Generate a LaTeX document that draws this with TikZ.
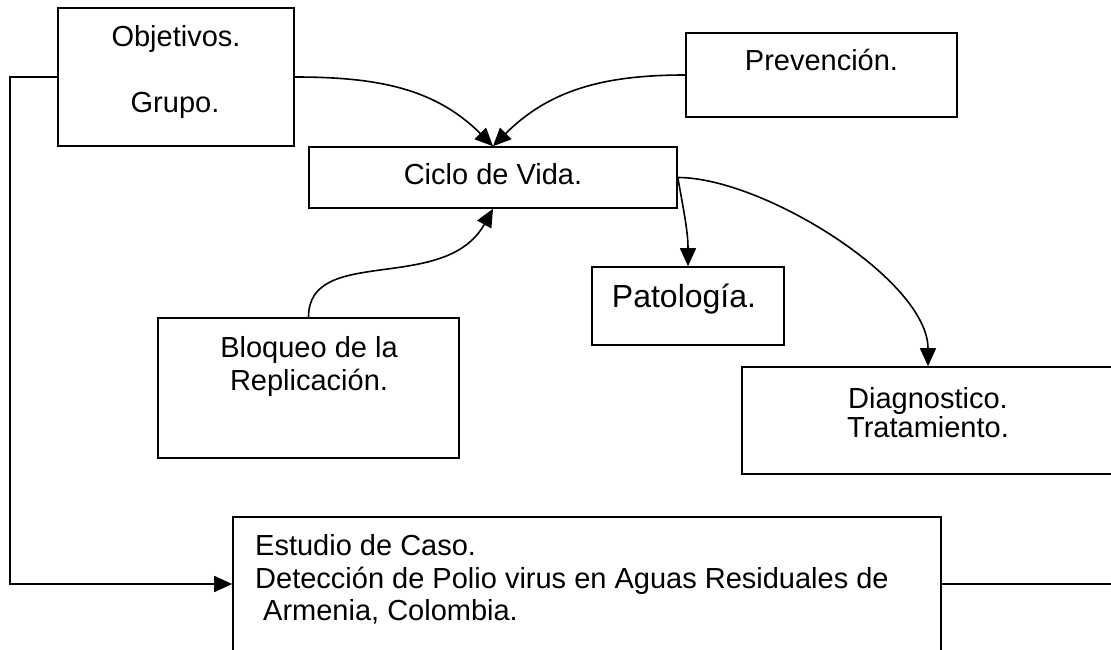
\documentclass[tikz,border=0pt]{standalone}
\usepackage{fontspec}
\setmainfont{Liberation Sans}
\usetikzlibrary{arrows.meta}
\begin{document}
\begin{tikzpicture}[x=1pt,y=-1pt,
  box/.style={draw=black,line width=1.6pt,rectangle,inner sep=0pt,fill=white},
  txt/.style={inner sep=0pt,anchor=base,font=\fontsize{29}{34}\selectfont},
  ltxt/.style={txt,anchor=base west},
  conn/.style={line width=1.6pt,draw=black},
  arr/.style={conn,-{Triangle[length=18pt,width=16pt]}}]
\useasboundingbox (0,0) rectangle (1111,650);
\clip (0,0) rectangle (1111,650);
\fill[white] (0,0) rectangle (1111,650);
% boxes
\node[box,minimum width=236pt,minimum height=138pt] (obj) at (176,77) {};
\node[box,minimum width=271pt,minimum height=84pt] (prev) at (821.5,75) {};
\node[box,minimum width=368pt,minimum height=61pt] (cv) at (493,177.5) {};
\node[box,minimum width=192pt,minimum height=78pt] (pat) at (688,306) {};
\node[box,minimum width=372pt,minimum height=107pt] (diag) at (928,420.5) {};
\node[box,minimum width=301pt,minimum height=140pt] (bl) at (308.5,388) {};
\node[box,minimum width=708pt,minimum height=134pt] (cs) at (587,584) {};
% texts
\node[txt] (t1) at (176,47) {Objetivos.};
\node[txt] (t2) at (175,113) {Grupo.};
\node[txt] (t3) at (821.5,71) {Prevención.};
\node[txt] (t4) at (493,184) {Ciclo de Vida.};
\node[txt,font=\fontsize{32}{38}\selectfont] (t5) at (684,307) {Patología.};
\node[txt] (t6) at (928,408) {Diagnostico.};
\node[txt] (t7) at (928,437) {Tratamiento.};
\node[txt] (t8) at (309,357) {Bloqueo de la};
\node[txt] (t9) at (309,390) {Replicación.};
\node[ltxt] (t10) at (255,555) {Estudio de Caso.};
\node[ltxt] (t11) at (255,588) {Detección de Polio virus en Aguas Residuales de};
\node[ltxt] (t12) at (263,620) {Armenia, Colombia.};
% connectors
\draw[arr] (obj.east) to[out=0,in=135] (cv.north);
\draw[arr] (prev.west) to[out=180,in=45] (cv.north);
\draw[arr] (bl.north) .. controls +(0,-73) and +(-48,86) .. (cv.south);
\draw[arr] (cv.east) to[out=-80,in=90] (pat.north);
\draw[arr] (cv.east) to[out=0,in=90,looseness=0.7] (diag.north);
\coordinate (lc) at (10,77);
\draw[arr] (obj.west) -- (lc) |- (cs.west);
\coordinate (rc) at (1111,584);
\draw[conn] (cs.east) -- (rc);
\end{tikzpicture}
\end{document}
